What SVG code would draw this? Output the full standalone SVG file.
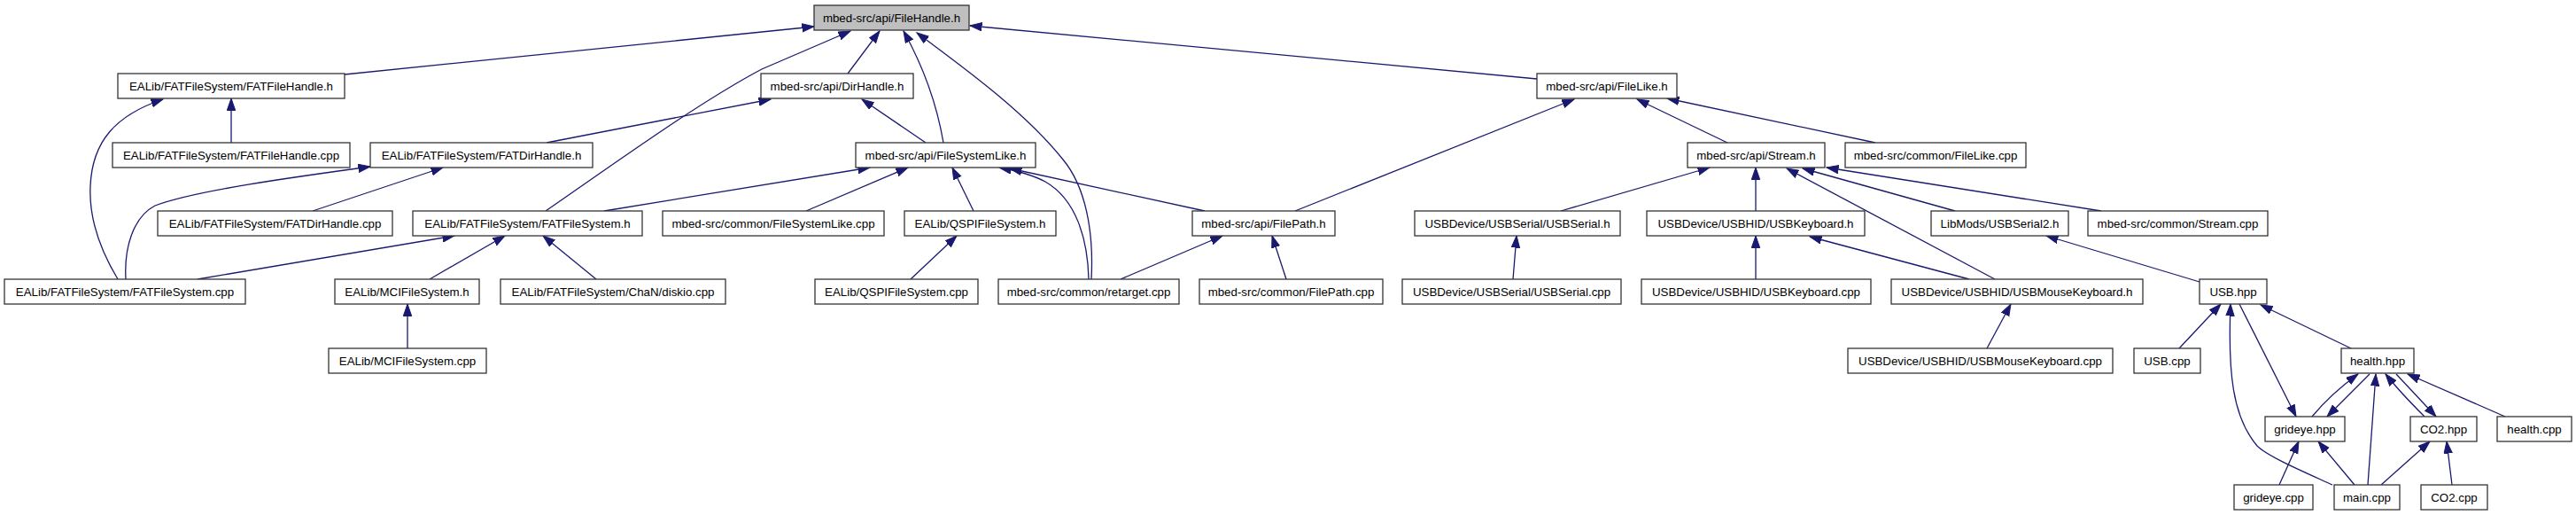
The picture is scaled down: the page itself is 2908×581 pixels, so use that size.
<svg xmlns="http://www.w3.org/2000/svg" width="2908" height="581" viewBox="0 0 2908 581">
<style>
.n rect{fill:#fff;stroke:#333;stroke-width:1.3}
.n.root rect{fill:#bfbfbf}
.n text{font-family:"Liberation Sans",Arial,Helvetica,sans-serif;font-size:13.3px;fill:#000;text-anchor:middle}
#edges path{fill:none;stroke:#191970;stroke-width:1.3;marker-end:url(#ah)}
</style>
<defs>
<marker id="ah" markerUnits="userSpaceOnUse" markerWidth="15" markerHeight="11" refX="13.5" refY="5" orient="auto">
<path d="M0,0.3 L13.5,5 L0,9.7 z" fill="#191970" stroke="#191970" stroke-width="1"/>
</marker>
</defs>
<rect width="2908" height="581" fill="#fff"/>
<g id="edges">
<path d="M389,84 L919,30"/>
<path d="M616,238 C700,180 790,115 860,78 L960,35"/>
<path d="M957,83 L993,35"/>
<path d="M1065,161 C1058,120 1045,80 1020,35"/>
<path d="M1232,315 C1235,260 1225,210 1200,180 C1160,130 1100,85 1035,37"/>
<path d="M1735,89 L1095,29"/>
<path d="M261,161 L261,111"/>
<path d="M133,315 C115,285 100,250 102,210 C104,160 130,130 184,112"/>
<path d="M617,161 L870,112"/>
<path d="M142,315 C140,280 150,245 175,232 C220,215 330,200 418,188"/>
<path d="M353,238 L500,189"/>
<path d="M682,238 L982,189"/>
<path d="M223,315 L513,266"/>
<path d="M485,315 L570,266"/>
<path d="M673,315 L613,266"/>
<path d="M460,393 L460,343"/>
<path d="M1028,315 L1080,266"/>
<path d="M1099,238 L1075,189"/>
<path d="M910,238 L1025,189"/>
<path d="M1045,161 L973,112"/>
<path d="M1229,315 C1228,270 1215,225 1180,205 C1165,197 1150,193 1128,189"/>
<path d="M1360,238 L1140,190"/>
<path d="M1462,238 L1777,112"/>
<path d="M1265,315 L1380,266"/>
<path d="M1452,315 L1436,266"/>
<path d="M1950,161 L1848,112"/>
<path d="M2117,161 L1882,111"/>
<path d="M1762,238 L1930,189"/>
<path d="M1708,315 L1712,266"/>
<path d="M1982,238 L1982,189"/>
<path d="M1982,315 L1982,266"/>
<path d="M2252,315 L2017,190"/>
<path d="M2223,315 L2043,267"/>
<path d="M2207,238 L2035,190"/>
<path d="M2372,238 L2062,189"/>
<path d="M2243,393 L2270,343"/>
<path d="M2483,318 L2310,266"/>
<path d="M2460,393 L2507,343"/>
<path d="M2654,393 L2552,344"/>
<path d="M2528,343 L2592,470"/>
<path d="M2633,547 C2600,532 2560,515 2548,503 C2520,470 2515,420 2518,343"/>
<path d="M2610,470 C2625,452 2640,438 2662,422"/>
<path d="M2675,422 L2627,470"/>
<path d="M2673,547 L2682,422"/>
<path d="M2737,470 C2725,458 2705,437 2693,422"/>
<path d="M2705,422 L2750,470"/>
<path d="M2828,470 L2718,422"/>
<path d="M2573,547 L2595,498"/>
<path d="M2658,547 L2617,498"/>
<path d="M2688,547 L2743,498"/>
<path d="M2768,547 L2762,498"/>
</g>
<g id="n0" class="n root"><rect x="919" y="6" width="175" height="28"/><text x="1006.5" y="25">mbed-src/api/FileHandle.h</text></g>
<g id="n1" class="n"><rect x="133" y="83" width="256" height="28"/><text x="261" y="102">EALib/FATFileSystem/FATFileHandle.h</text></g>
<g id="n2" class="n"><rect x="859" y="83" width="172" height="28"/><text x="945" y="102">mbed-src/api/DirHandle.h</text></g>
<g id="n3" class="n"><rect x="1735" y="83" width="158" height="28"/><text x="1814" y="102">mbed-src/api/FileLike.h</text></g>
<g id="n4" class="n"><rect x="127" y="161" width="268" height="28"/><text x="261" y="180">EALib/FATFileSystem/FATFileHandle.cpp</text></g>
<g id="n5" class="n"><rect x="418" y="161" width="251" height="28"/><text x="543.5" y="180">EALib/FATFileSystem/FATDirHandle.h</text></g>
<g id="n6" class="n"><rect x="966" y="161" width="203" height="28"/><text x="1067.5" y="180">mbed-src/api/FileSystemLike.h</text></g>
<g id="n7" class="n"><rect x="1905" y="161" width="155" height="28"/><text x="1982.5" y="180">mbed-src/api/Stream.h</text></g>
<g id="n8" class="n"><rect x="2083" y="161" width="204" height="28"/><text x="2185" y="180">mbed-src/common/FileLike.cpp</text></g>
<g id="n9" class="n"><rect x="178" y="238" width="265" height="28"/><text x="310.5" y="257">EALib/FATFileSystem/FATDirHandle.cpp</text></g>
<g id="n10" class="n"><rect x="466" y="238" width="259" height="28"/><text x="595.5" y="257">EALib/FATFileSystem/FATFileSystem.h</text></g>
<g id="n11" class="n"><rect x="748" y="238" width="250" height="28"/><text x="873" y="257">mbed-src/common/FileSystemLike.cpp</text></g>
<g id="n12" class="n"><rect x="1021" y="238" width="171" height="28"/><text x="1106.5" y="257">EALib/QSPIFileSystem.h</text></g>
<g id="n13" class="n"><rect x="1346" y="238" width="161" height="28"/><text x="1426.5" y="257">mbed-src/api/FilePath.h</text></g>
<g id="n14" class="n"><rect x="1597" y="238" width="232" height="28"/><text x="1713" y="257">USBDevice/USBSerial/USBSerial.h</text></g>
<g id="n15" class="n"><rect x="1859" y="238" width="246" height="28"/><text x="1982" y="257">USBDevice/USBHID/USBKeyboard.h</text></g>
<g id="n16" class="n"><rect x="2180" y="238" width="155" height="28"/><text x="2257.5" y="257">LibMods/USBSerial2.h</text></g>
<g id="n17" class="n"><rect x="2357" y="238" width="203" height="28"/><text x="2458.5" y="257">mbed-src/common/Stream.cpp</text></g>
<g id="n18" class="n"><rect x="5" y="315" width="272" height="28"/><text x="141" y="334">EALib/FATFileSystem/FATFileSystem.cpp</text></g>
<g id="n19" class="n"><rect x="378" y="315" width="163" height="28"/><text x="459.5" y="334">EALib/MCIFileSystem.h</text></g>
<g id="n20" class="n"><rect x="565" y="315" width="254" height="28"/><text x="692" y="334">EALib/FATFileSystem/ChaN/diskio.cpp</text></g>
<g id="n21" class="n"><rect x="920" y="315" width="184" height="28"/><text x="1012" y="334">EALib/QSPIFileSystem.cpp</text></g>
<g id="n22" class="n"><rect x="1127" y="315" width="204" height="28"/><text x="1229" y="334">mbed-src/common/retarget.cpp</text></g>
<g id="n23" class="n"><rect x="1354" y="315" width="207" height="28"/><text x="1457.5" y="334">mbed-src/common/FilePath.cpp</text></g>
<g id="n24" class="n"><rect x="1583" y="315" width="247" height="28"/><text x="1706.5" y="334">USBDevice/USBSerial/USBSerial.cpp</text></g>
<g id="n25" class="n"><rect x="1853" y="315" width="259" height="28"/><text x="1982.5" y="334">USBDevice/USBHID/USBKeyboard.cpp</text></g>
<g id="n26" class="n"><rect x="2135" y="315" width="284" height="28"/><text x="2277" y="334">USBDevice/USBHID/USBMouseKeyboard.h</text></g>
<g id="n27" class="n"><rect x="2483" y="315" width="76" height="28"/><text x="2521" y="334">USB.hpp</text></g>
<g id="n28" class="n"><rect x="371" y="393" width="178" height="28"/><text x="460" y="412">EALib/MCIFileSystem.cpp</text></g>
<g id="n29" class="n"><rect x="2086" y="393" width="299" height="28"/><text x="2235.5" y="412">USBDevice/USBHID/USBMouseKeyboard.cpp</text></g>
<g id="n30" class="n"><rect x="2409" y="393" width="75" height="28"/><text x="2446.5" y="412">USB.cpp</text></g>
<g id="n31" class="n"><rect x="2643" y="393" width="82" height="28"/><text x="2684" y="412">health.hpp</text></g>
<g id="n32" class="n"><rect x="2557" y="470" width="90" height="28"/><text x="2602" y="489">grideye.hpp</text></g>
<g id="n33" class="n"><rect x="2721" y="470" width="75" height="28"/><text x="2758.5" y="489">CO2.hpp</text></g>
<g id="n34" class="n"><rect x="2819" y="470" width="84" height="28"/><text x="2861" y="489">health.cpp</text></g>
<g id="n35" class="n"><rect x="2522" y="547" width="89" height="28"/><text x="2566.5" y="566">grideye.cpp</text></g>
<g id="n36" class="n"><rect x="2635" y="547" width="74" height="28"/><text x="2672" y="566">main.cpp</text></g>
<g id="n37" class="n"><rect x="2733" y="547" width="75" height="28"/><text x="2770.5" y="566">CO2.cpp</text></g>
</svg>
